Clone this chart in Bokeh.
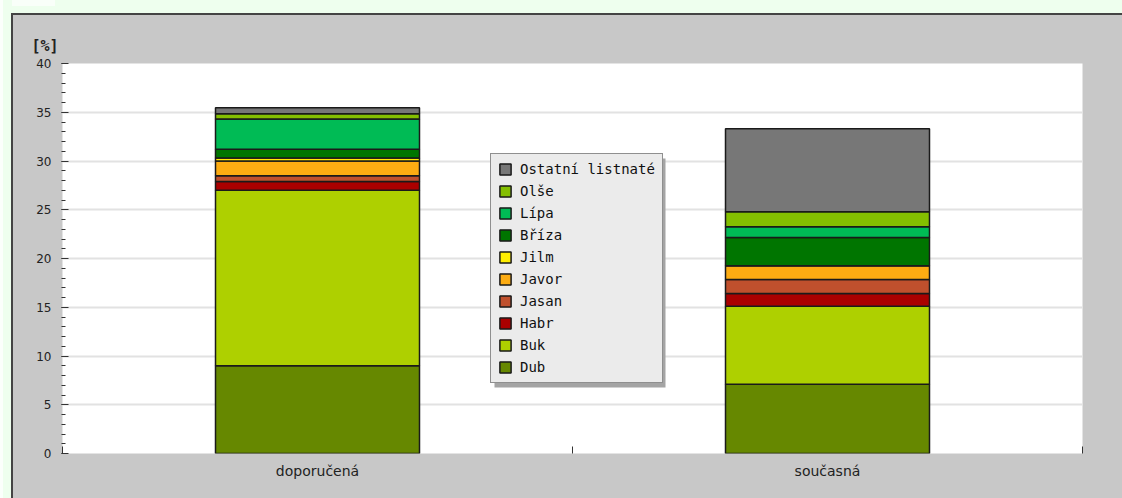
from bokeh.plotting import figure
from bokeh.models import (ColumnDataSource, Range1d, LinearAxis, FixedTicker,
                          Legend, LegendItem, Title, BoxAnnotation)
from bokeh.layouts import column
from bokeh.embed import file_html
from bokeh.resources import INLINE

# ---- data ----
categories = ["doporučená", "současná"]
species = ["Dub", "Buk", "Habr", "Jasan", "Javor", "Jilm", "Bříza", "Lípa", "Olše", "Ostatní listnaté"]
dub = [9.0, 7.1]
buk = [18.0, 8.0]
habr = [0.9, 1.3]
jasan = [0.6, 1.45]
javor = [1.5, 1.4]
jilm = [0.3, 0.0]
briza = [0.9, 2.9]
lipa = [3.1, 1.1]
olse = [0.55, 1.55]
ostatni = [0.6, 8.5]
colors = ["#668800", "#aed000", "#aa0000", "#c0502d", "#fdac12",
          "#ffee00", "#007500", "#00bb55", "#84bf00", "#777777"]
y_ticks = [0, 5, 10, 15, 20, 25, 30, 35, 40]

n = len(categories)
centers = [i + 0.5 for i in range(n)]
bounds = list(range(n + 1))

keys = ["s%d" % i for i in range(len(species))]
series = [dub, buk, habr, jasan, javor, jilm, briza, lipa, olse, ostatni]
data = {"x": centers}
for k, s in zip(keys, series):
    data[k] = s
source = ColumnDataSource(data)

p = figure(x_range=Range1d(0, n), y_range=Range1d(0, 40),
           width=1112, height=483, output_backend="svg", toolbar_location=None,
           x_axis_location=None, y_axis_location=None,
           min_border_left=49, min_border_right=43, min_border_top=48, min_border_bottom=45,
           border_fill_color="#c8c8c8", background_fill_color="#ffffff",
           outline_line_color=None)
p.margin = (15, 0, 0, 13)

renderers = p.vbar_stack(keys, x="x", width=0.4, color=colors, source=source,
                         line_color="#1a1a1a", line_width=1.5)

# y axis
yax = LinearAxis(ticker=FixedTicker(ticks=y_ticks, minor_ticks=list(range(0, 41))))
yax.axis_line_color = None
yax.major_tick_line_color = "#333333"
yax.minor_tick_line_color = "#333333"
yax.major_tick_in = 6
yax.major_tick_out = 1
yax.minor_tick_in = 3
yax.minor_tick_out = 1
yax.major_label_text_font = "DejaVu Sans"
yax.major_label_text_font_size = "12px"
yax.major_label_text_color = "#222222"
yax.major_label_standoff = 10
p.add_layout(yax, "left")

# boundary ticks on x (no labels)
bax = LinearAxis(ticker=FixedTicker(ticks=bounds))
bax.axis_line_color = None
bax.major_tick_line_color = "#333333"
bax.major_tick_in = 7
bax.major_tick_out = 0
bax.minor_tick_line_color = None
bax.major_label_text_font_size = "0px"
bax.major_label_text_color = None
bax.major_label_standoff = 0
p.add_layout(bax, "below")

# category labels
cax = LinearAxis(ticker=FixedTicker(ticks=centers),
                 major_label_overrides={c: lab for c, lab in zip(centers, categories)})
cax.axis_line_color = None
cax.major_tick_line_color = None
cax.minor_tick_line_color = None
cax.major_label_text_font = "DejaVu Sans"
cax.major_label_text_font_size = "14px"
cax.major_label_text_color = "#222222"
cax.major_label_standoff = 3
p.add_layout(cax, "below")

p.xgrid.visible = False
p.ygrid.grid_line_color = "#e2e2e2"
p.ygrid.grid_line_width = 2
p.ygrid.ticker = FixedTicker(ticks=y_ticks)

# unit title
t = Title(text="[%]", align="left", offset=-31, text_font="DejaVu Sans Mono",
          text_font_style="bold", text_font_size="15px", text_color="#222222", standoff=18)
p.add_layout(t, "above")

# legend shadow
shadow = BoxAnnotation(left=432, right=603, bottom=66, top=295,
                       left_units="screen", right_units="screen",
                       bottom_units="screen", top_units="screen",
                       fill_color="#a4a4a4", fill_alpha=1, line_color=None)
p.add_layout(shadow)

items = [LegendItem(label=species[i], renderers=[renderers[i]]) for i in reversed(range(len(species)))]
lg = Legend(items=items, location=(428, 70))
lg.label_text_font = "DejaVu Sans Mono"
lg.label_text_font_size = "14px"
lg.label_text_color = "#111111"
lg.glyph_width = 14
lg.glyph_height = 14
lg.label_height = 14
lg.label_standoff = 8
lg.spacing = 6
lg.padding = 7
lg.margin = 0
lg.background_fill_color = "#ebebeb"
lg.background_fill_alpha = 1
lg.border_line_color = "#333333"
lg.border_line_width = 1.5
p.add_layout(lg, "center")

bg = ("linear-gradient(#f9fff9,#f9fff9) 12px 0px / 43px 6px no-repeat, "
      "linear-gradient(#fbfffb,#fbfffb) 0px 0px / 3px 100% no-repeat, "
      "linear-gradient(#444444,#444444) 11px 13px / 100% 2px no-repeat, "
      "linear-gradient(#444444,#444444) 11px 13px / 2px 100% no-repeat, "
      "linear-gradient(#c8c8c8,#c8c8c8) 13px 15px / 100% 100% no-repeat, #eeffee")
outer = column(p, width=1122, height=498, sizing_mode="fixed",
               styles={"background": bg, "overflow": "hidden"})

open("out.html", "w").write(file_html(outer, INLINE))
